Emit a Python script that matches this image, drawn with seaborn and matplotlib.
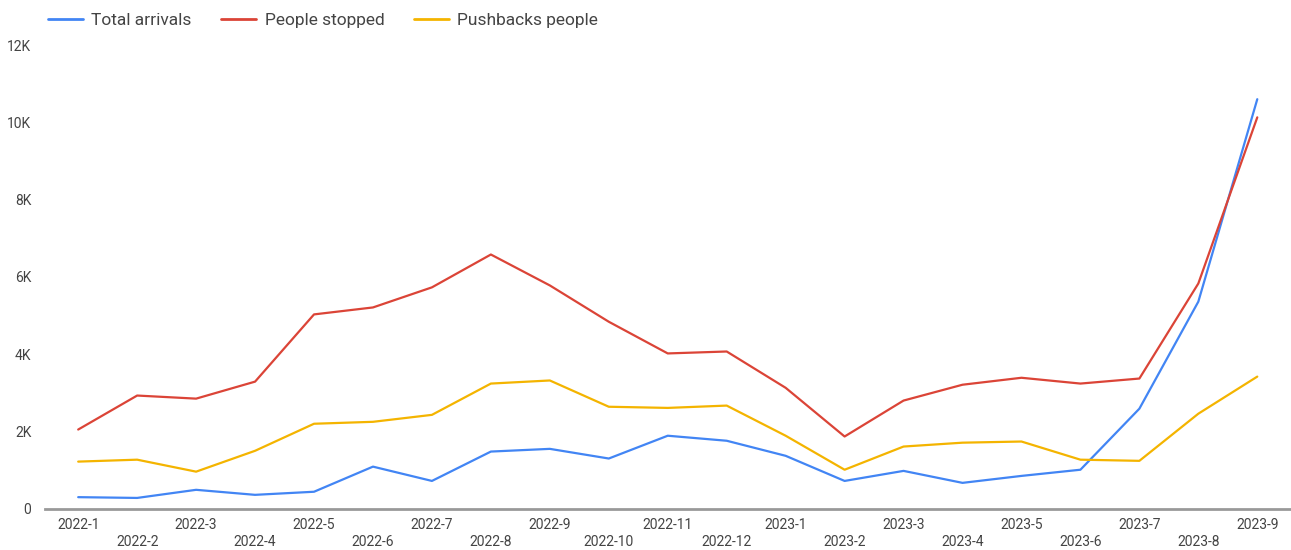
import matplotlib.pyplot as plt
import seaborn as sns
import pandas as pd

months = ['2022-1', '2022-2', '2022-3', '2022-4', '2022-5', '2022-6', '2022-7',
          '2022-8', '2022-9', '2022-10', '2022-11', '2022-12', '2023-1', '2023-2',
          '2023-3', '2023-4', '2023-5', '2023-6', '2023-7', '2023-8', '2023-9']
total_arrivals = [300, 280, 490, 360, 440, 1090, 720, 1480, 1550, 1300, 1890,
                  1760, 1370, 720, 980, 670, 850, 1010, 2590, 5360, 10600]
people_stopped = [2050, 2930, 2850, 3290, 5030, 5210, 5730, 6580, 5780, 4840, 4020,
                  4070, 3130, 1870, 2800, 3210, 3390, 3240, 3370, 5830, 10130]
pushbacks = [1220, 1270, 960, 1500, 2200, 2250, 2430, 3240, 3320, 2640, 2610,
             2670, 1890, 1010, 1610, 1710, 1740, 1270, 1240, 2460, 3420]

series_names = ['Total arrivals', 'People stopped', 'Pushbacks people']
colors = ['#4285F4', '#DB4437', '#F4B400']

# long-form table for seaborn
rows = []
for name, vals in zip(series_names, [total_arrivals, people_stopped, pushbacks]):
    for i, v in enumerate(vals):
        rows.append({'idx': i, 'value': v, 'series': name})
df = pd.DataFrame(rows)

sns.set_style('white')
plt.rcParams['font.family'] = ['Roboto', 'DejaVu Sans']

fig = plt.figure(figsize=(12.91, 5.5), dpi=100)
ax = fig.add_axes([0.035, 0.075, 0.964, 0.843])

sns.lineplot(data=df, x='idx', y='value', hue='series', hue_order=series_names,
             palette=colors, linewidth=1.6, ax=ax, legend=False)

ax.set_xlim(-0.56, 20.55)
ax.set_ylim(0, 12000)
ax.set_yticks([0, 2000, 4000, 6000, 8000, 10000, 12000])
ax.set_yticklabels(['0', '2K', '4K', '6K', '8K', '10K', '12K'])

# staggered x labels like the original
ax.set_xticks(range(len(months)))
ax.set_xticklabels([m if i % 2 == 0 else '\n' + m for i, m in enumerate(months)])

ax.tick_params(axis='both', length=0, labelsize=10, labelcolor='#444444')
ax.tick_params(axis='x', pad=7)
ax.tick_params(axis='y', pad=10)
ax.set_xlabel('')
ax.set_ylabel('')
for s in ['top', 'right', 'left']:
    ax.spines[s].set_visible(False)
ax.spines['bottom'].set_color('#999999')
ax.spines['bottom'].set_linewidth(2)

# legend at the top
handles = [plt.Line2D([], [], color=c, linewidth=2) for c in colors]
fig.legend(handles, series_names, loc='upper left', bbox_to_anchor=(0.025, 1.005),
           ncol=3, frameon=False, fontsize=12.5, handlelength=2.0,
           columnspacing=1.7, handletextpad=0.5, labelcolor='#444444')

plt.savefig('out.png', dpi=100)
plt.close()
